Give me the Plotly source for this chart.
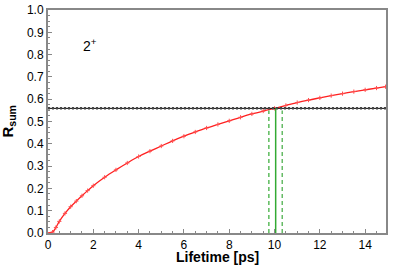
import plotly.graph_objects as go

lifetime = [0.0, 0.2, 0.35, 0.5, 0.75, 1.0, 1.25, 1.5, 1.75, 2.0, 2.5, 3.0, 3.5, 4.0, 4.5, 5.0,
            5.5, 6.0, 6.5, 7.0, 7.5, 8.0, 8.5, 9.0, 9.5, 10.0, 10.5, 11.0, 11.5, 12.0, 12.5,
            13.0, 13.5, 14.0, 14.5, 14.9]
rsum = [0.0, 0.004, 0.025, 0.052, 0.088, 0.118, 0.143, 0.167, 0.19, 0.212, 0.25, 0.283, 0.314,
        0.343, 0.367, 0.39, 0.413, 0.434, 0.453, 0.471, 0.487, 0.503, 0.519, 0.534, 0.547,
        0.559, 0.572, 0.585, 0.596, 0.606, 0.616, 0.625, 0.634, 0.642, 0.65, 0.656]
r_exp = 0.559
tau = 10.05
tau_lo = 9.75
tau_hi = 10.34
x_max = 14.92

FONT = "Liberation Sans, Arial, Helvetica"

fig = go.Figure()
fig.add_trace(go.Scatter(x=lifetime, y=rsum, mode="lines", line=dict(color="#ff2020", width=1.3, shape="spline"),
                         showlegend=False))
fig.add_trace(go.Scatter(x=lifetime[1:], y=rsum[1:], mode="markers",
                         marker=dict(symbol="cross-thin", size=3, line=dict(color="#ff5050", width=1)),
                         showlegend=False))
# horizontal experimental value
fig.add_trace(go.Scatter(x=[0, x_max], y=[r_exp, r_exp], mode="lines",
                         line=dict(color="black", width=1), showlegend=False))
fig.add_trace(go.Scatter(x=[0, x_max], y=[r_exp, r_exp], mode="lines",
                         line=dict(color="#444444", width=2.5, dash="2px,2px"), showlegend=False))
# green lifetime lines
fig.add_trace(go.Scatter(x=[tau, tau], y=[0, r_exp], mode="lines",
                         line=dict(color="#33aa33", width=1.5), showlegend=False))
fig.add_trace(go.Scatter(x=[tau_lo, tau_lo], y=[0, r_exp - 0.01], mode="lines",
                         line=dict(color="#33aa33", width=1.2, dash="4px,3px"), showlegend=False))
fig.add_trace(go.Scatter(x=[tau_hi, tau_hi], y=[0, r_exp - 0.01], mode="lines",
                         line=dict(color="#66bb66", width=1.5, dash="4px,3px"), showlegend=False))

fig.add_annotation(x=1.85, y=0.845, text="2<sup>+</sup>", showarrow=False,
                   font=dict(size=14, color="black", family=FONT))
# axis titles
fig.add_annotation(xref="paper", yref="paper", x=0.5, y=0, yshift=-24, xanchor="center", yanchor="middle",
                   text="<b>Lifetime [ps]</b>", showarrow=False, borderpad=0,
                   font=dict(size=14, color="black", family=FONT))
fig.add_annotation(xref="paper", yref="paper", x=0, y=0.5, xshift=-40, xanchor="center", yanchor="middle",
                   textangle=-90, text="<b>R<sub>sum</sub></b>", showarrow=False, borderpad=0,
                   font=dict(size=15, color="black", family=FONT))

axis_common = dict(showline=True, linecolor="#888888", linewidth=2, mirror=True, automargin=False,
                   ticks="inside", tickcolor="#888888", ticklen=4, showgrid=False, zeroline=False,
                   tickfont=dict(size=12, color="black", family=FONT))
fig.update_xaxes(range=[0, x_max], dtick=2, tick0=0,
                 minor=dict(dtick=0.5, ticks="inside", ticklen=2, tickcolor="#888888"),
                 **axis_common)
fig.update_yaxes(range=[0, 1.0], dtick=0.1, tick0=0, tickformat=".1f",
                 minor=dict(dtick=0.025, ticks="inside", ticklen=2, tickcolor="#888888"),
                 **axis_common)
fig.update_layout(width=399, height=265, margin=dict(l=48, r=13, t=10, b=32),
                  plot_bgcolor="white", paper_bgcolor="white")
fig.write_html("out.html", config={"displayModeBar": False},
               post_script="document.body.style.margin='0';")
